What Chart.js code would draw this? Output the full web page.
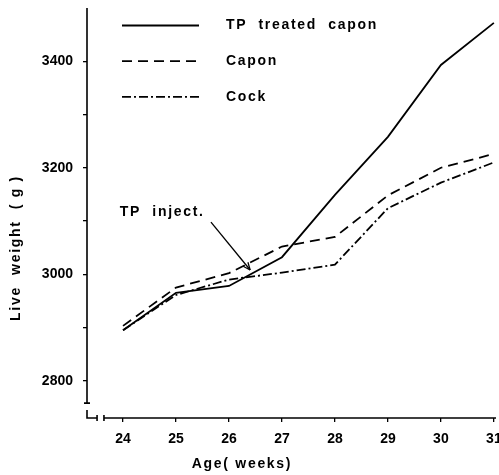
<!DOCTYPE html>
<html><head><meta charset="utf-8">
<script src="https://cdn.jsdelivr.net/npm/chart.js@4.4.1/dist/chart.umd.min.js"></script>
<style>html,body{margin:0;padding:0;background:#fff;} canvas{display:block;}</style>
</head><body>
<canvas id="c" width="499" height="475"></canvas>
<script>
// ---- data ----
const weeks = [24, 25, 26, 27, 28, 29, 30, 31];
const tpTreatedCapon = [2895, 2965, 2978, 3032, 3149, 3258, 3393, 3472];
const capon = [2903, 2975, 3002, 3052, 3070, 3148, 3200, 3226];
const cock = [2895, 2961, 2990, 3003, 3018, 3124, 3172, 3210];
const seriesLabels = ['TP  treated  capon', 'Capon', 'Cock'];
const xTickLabels = [24, 25, 26, 27, 28, 29, 30, 31];
const yTickLabels = [2800, 3000, 3200, 3400];
const yMinorTicks = [2900, 3100, 3300];
const xTitle = 'Age( weeks)';
const yTitle = 'Live  weight  ( g )';
const annotationText = 'TP  inject.';

// ---- styling / layout ----
const FONT = '"Liberation Sans", Arial, sans-serif';
const X_MIN = 23.32, X_MAX = 31.04, Y_MIN = 2730, Y_MAX = 3500;
const Y_AXIS_END = 2758, X_AXIS_START = 23.64, BREAK_X = 23.51;
const ARROW = { from: [25.66, 3098], to: [26.40, 3008] };
const NOTE_POS = [23.94, 3117];

function pts(vals) { return weeks.map((w, i) => ({ x: w, y: vals[i] })); }

const styles = [
  { dash: [] },
  { dash: [10, 6] },
  { dash: [9, 3, 2, 3] }
];
const seriesValues = [tpTreatedCapon, capon, cock];

const datasets = seriesValues.map((v, i) => ({
  label: seriesLabels[i],
  data: pts(v),
  borderColor: '#000',
  backgroundColor: '#000',
  borderWidth: 1.8,
  borderDash: styles[i].dash,
  pointRadius: 0,
  tension: 0,
  fill: false
}));

const decor = {
  id: 'decor',
  afterDraw(chart) {
    const ctx = chart.ctx, xs = chart.scales.x, ys = chart.scales.y, ca = chart.chartArea;
    ctx.save();
    ctx.strokeStyle = '#000';
    ctx.fillStyle = '#000';
    ctx.lineWidth = 1.6;
    ctx.setLineDash([]);
    // y axis line
    const yEnd = ys.getPixelForValue(Y_AXIS_END);
    ctx.beginPath();
    ctx.moveTo(ca.left, ca.top); ctx.lineTo(ca.left, yEnd);
    ctx.moveTo(ca.left - 3, yEnd); ctx.lineTo(ca.left + 3, yEnd);
    ctx.stroke();
    // break symbol + x axis
    const bx = xs.getPixelForValue(BREAK_X), xStart = xs.getPixelForValue(X_AXIS_START);
    ctx.beginPath();
    ctx.moveTo(ca.left, ca.bottom - 8); ctx.lineTo(ca.left, ca.bottom);
    ctx.lineTo(bx, ca.bottom);
    ctx.moveTo(bx, ca.bottom - 3); ctx.lineTo(bx, ca.bottom + 3);
    ctx.moveTo(xStart, ca.bottom - 3); ctx.lineTo(xStart, ca.bottom + 3);
    ctx.moveTo(xStart, ca.bottom); ctx.lineTo(ca.right, ca.bottom);
    ctx.stroke();

    // legend
    ctx.font = 'bold 14px ' + FONT;
    ctx.letterSpacing = '1.7px';
    ctx.textBaseline = 'middle';
    ctx.textAlign = 'left';
    chart.data.datasets.forEach((ds, i) => {
      const y = ca.top + 17.5 + i * 35.7;
      const x1 = ca.left + 35, x2 = ca.left + 112;
      ctx.save();
      ctx.lineWidth = 1.8;
      ctx.setLineDash(ds.borderDash || []);
      ctx.beginPath(); ctx.moveTo(x1, y); ctx.lineTo(x2, y); ctx.stroke();
      ctx.restore();
      ctx.fillText(ds.label, ca.left + 139, y);
    });

    // annotation
    const nx = xs.getPixelForValue(NOTE_POS[0]), ny = ys.getPixelForValue(NOTE_POS[1]);
    ctx.fillText(annotationText, nx, ny);
    const ax1 = xs.getPixelForValue(ARROW.from[0]), ay1 = ys.getPixelForValue(ARROW.from[1]);
    const ax2 = xs.getPixelForValue(ARROW.to[0]), ay2 = ys.getPixelForValue(ARROW.to[1]);
    ctx.lineWidth = 1.3;
    ctx.beginPath(); ctx.moveTo(ax1, ay1); ctx.lineTo(ax2, ay2); ctx.stroke();
    const ang = Math.atan2(ay2 - ay1, ax2 - ax1), L = 8, spread = 0.4;
    ctx.beginPath();
    ctx.moveTo(ax2, ay2);
    ctx.lineTo(ax2 - L * Math.cos(ang - spread), ay2 - L * Math.sin(ang - spread));
    ctx.moveTo(ax2, ay2);
    ctx.lineTo(ax2 - L * Math.cos(ang + spread), ay2 - L * Math.sin(ang + spread));
    ctx.stroke();

    // axis titles
    ctx.textAlign = 'center';
    ctx.fillText(xTitle, 242, 464);
    ctx.translate(16, (ca.top + ca.bottom) / 2 + 35);
    ctx.rotate(-Math.PI / 2);
    ctx.fillText(yTitle, 0, 0);
    ctx.restore();
  }
};

new Chart(document.getElementById('c'), {
  type: 'line',
  data: { datasets },
  options: {
    responsive: false,
    animation: false,
    devicePixelRatio: 1,
    layout: { padding: { top: 8, right: 3, left: 0, bottom: 0 } },
    plugins: { legend: { display: false }, tooltip: { enabled: false } },
    scales: {
      x: {
        type: 'linear', min: X_MIN, max: X_MAX,
        afterBuildTicks: s => { s.ticks = xTickLabels.map(v => ({ value: v })); },
        afterFit: s => { s.height = 57; s.paddingLeft = 0; s.paddingRight = 0; },
        ticks: { color: '#000', font: { family: FONT, size: 14, weight: 'bold' }, padding: 9, maxRotation: 0, autoSkip: false,
                 callback: v => String(v) },
        grid: { display: true, drawOnChartArea: false, drawTicks: true, tickLength: 4, color: '#000', lineWidth: 1.3 },
        border: { display: false }
      },
      y: {
        type: 'linear', min: Y_MIN, max: Y_MAX,
        afterBuildTicks: s => { s.ticks = [...yTickLabels, ...yMinorTicks].sort((a, b) => a - b).map(v => ({ value: v })); },
        afterFit: s => { s.width = 87; s.paddingTop = 0; s.paddingBottom = 0; },
        ticks: { color: '#000', font: { family: FONT, size: 14, weight: 'bold' }, padding: 10, autoSkip: false,
                 callback: v => yTickLabels.includes(v) ? String(v) : '' },
        grid: { display: true, drawOnChartArea: false, drawTicks: true, tickLength: 4, color: '#000', lineWidth: 1.3 },
        border: { display: false }
      }
    }
  },
  plugins: [decor]
});
</script>
</body></html>
